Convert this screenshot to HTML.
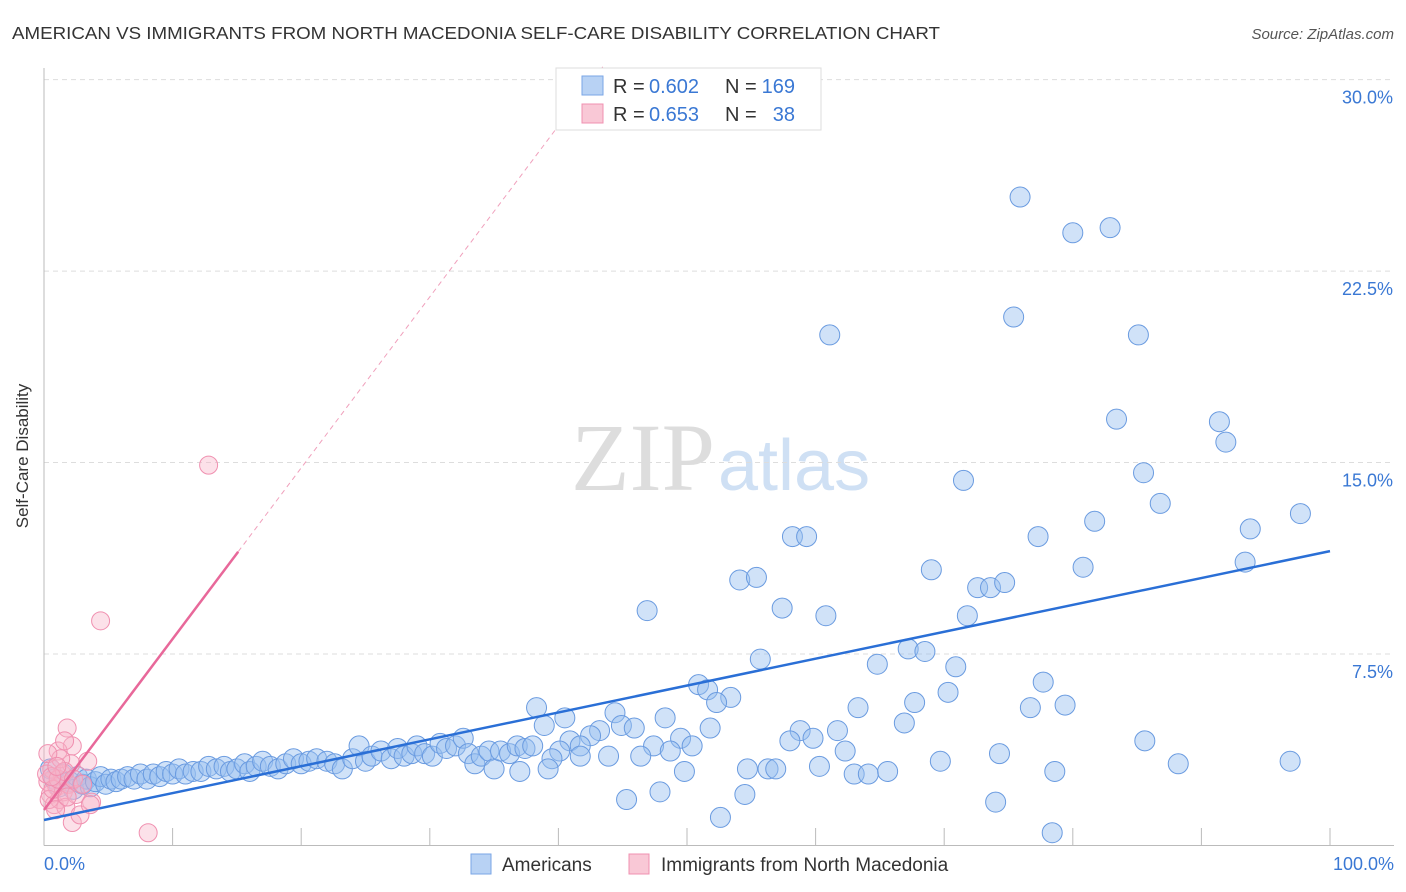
<!DOCTYPE html>
<html><head><meta charset="utf-8"><style>
body{margin:0;background:#fff;font-family:"Liberation Sans",sans-serif;}
svg{display:block}
</style></head><body>
<svg width="1406" height="892" xmlns="http://www.w3.org/2000/svg">
<text x="12" y="39" font-size="17.5" fill="#333" textLength="928" lengthAdjust="spacingAndGlyphs">AMERICAN VS IMMIGRANTS FROM NORTH MACEDONIA SELF-CARE DISABILITY CORRELATION CHART</text>
<text x="1394" y="39" font-size="15" fill="#555" font-style="italic" text-anchor="end">Source: ZipAtlas.com</text>
<text x="715" y="490" font-size="96" fill="#ddd" text-anchor="end" font-family="Liberation Serif,serif">ZIP</text>
<text x="718" y="490" font-size="72" fill="#cfe0f4">atlas</text>
<g id="grid"></g>
<g id="axes"></g>
<g id="pts"></g>
<g id="lines"></g>
<text x="28" y="456" font-size="17" fill="#333" text-anchor="middle" transform="rotate(-90 28 456)">Self-Care Disability</text>
<text x="44" y="870" font-size="18" fill="#3a78d4">0.0%</text>
<text x="1394" y="870" font-size="18" fill="#3a78d4" text-anchor="end">100.0%</text>
<g>
<rect x="556" y="68" width="265" height="62" fill="#fff" stroke="#ddd"/>
<rect x="582" y="76" width="21" height="19" fill="#b8d2f4" stroke="#7aa6e6"/>
<rect x="582" y="104" width="21" height="19" fill="#f9c8d6" stroke="#f090b0"/>
<text x="613" y="93" font-size="20" fill="#333">R =</text>
<text x="649" y="93" font-size="20" fill="#3a78d4">0.602</text>
<text x="725" y="93" font-size="20" fill="#333">N =</text>
<text x="795" y="93" font-size="20" fill="#3a78d4" text-anchor="end">169</text>
<text x="613" y="121" font-size="20" fill="#333">R =</text>
<text x="649" y="121" font-size="20" fill="#3a78d4">0.653</text>
<text x="725" y="121" font-size="20" fill="#333">N =</text>
<text x="795" y="121" font-size="20" fill="#3a78d4" text-anchor="end">38</text>
</g>
<g>
<rect x="471" y="854" width="20" height="20" fill="#b8d2f4" stroke="#7aa6e6"/>
<text x="502" y="871" font-size="19" fill="#333">Americans</text>
<rect x="629" y="854" width="20" height="20" fill="#f9c8d6" stroke="#f090b0"/>
<text x="661" y="871" font-size="19" fill="#333">Immigrants from North Macedonia</text>
</g>
</svg>
<script>
const yTicks=[7.5,15,22.5,30];
const xTicks=[0,10,20,30,40,50,60,70,80,90,100];
const blueX=[75.9,80.0,82.9,61.1,75.4,85.1,83.4,91.4,91.9,85.5,71.5,86.8,97.7,81.7,93.8,77.3,58.2,59.3,93.4,69.0,80.8,54.1,55.4,72.6,73.6,74.7,46.9,57.4,60.8,71.8,55.7,67.2,68.5,64.8,70.9,50.9,51.6,53.4,52.3,70.3,67.7,63.3,77.7,76.7,79.4,66.9,38.3,44.4,40.5,38.9,48.3,51.8,44.9,45.9,43.2,42.5,58.8,61.7,49.5,40.9,41.7,40.1,47.4,50.4,58.0,59.8,62.3,48.7,85.6,74.3,41.7,43.9,46.4,69.7,88.2,96.9,49.8,54.7,56.3,56.9,60.3,63.0,64.1,65.6,78.6,45.3,47.9,54.5,52.6,74.0,78.4,
0.5,0.8,1.2,1.5,2,2.3,2.6,3,3.3,3.6,4,4.4,4.8,5.2,5.6,6,6.5,7,7.5,8,8.5,9,9.5,10,10.5,11,11.6,12.2,12.8,13.4,14,14.5,15,15.6,16,16.5,17,17.6,18.2,18.8,19.4,20,20.6,21.2,22,22.6,23.2,24,24.5,25,25.5,26.2,27,27.5,28,28.6,29,29.6,30.2,30.8,31.3,32,32.6,33,33.5,34,34.6,35,35.5,36.2,36.8,37.4,38,37,39.5,39.2];
const blueY=[25.4,24.0,24.2,20.0,20.7,20.0,16.7,16.6,15.8,14.6,14.3,13.4,13.0,12.7,12.4,12.1,12.1,12.1,11.1,10.8,10.9,10.4,10.5,10.1,10.1,10.3,9.2,9.3,9.0,9.0,7.3,7.7,7.6,7.1,7.0,6.3,6.1,5.8,5.6,6.0,5.6,5.4,6.4,5.4,5.5,4.8,5.4,5.2,5.0,4.7,5.0,4.6,4.7,4.6,4.5,4.3,4.5,4.5,4.2,4.1,3.9,3.7,3.9,3.9,4.1,4.2,3.7,3.7,4.1,3.6,3.5,3.5,3.5,3.3,3.2,3.3,2.9,3.0,3.0,3.0,3.1,2.8,2.8,2.9,2.9,1.8,2.1,2.0,1.1,1.7,0.5,
3.0,2.6,2.3,2.8,2.5,2.2,2.7,2.4,2.6,2.3,2.5,2.7,2.4,2.6,2.5,2.6,2.7,2.6,2.8,2.6,2.8,2.7,2.9,2.8,3.0,2.8,2.9,2.9,3.1,3.0,3.1,2.9,3.0,3.2,2.9,3.1,3.3,3.1,3.0,3.2,3.4,3.2,3.3,3.4,3.3,3.2,3.0,3.4,3.9,3.3,3.5,3.7,3.4,3.8,3.5,3.6,3.9,3.6,3.5,4.0,3.8,3.9,4.2,3.6,3.2,3.5,3.7,3.0,3.7,3.6,3.9,3.8,3.9,2.9,3.4,3.0];
const pinkX=[8.1,4.4,12.8,1.8,2.2,1.1,1.6,3.7,2.2,3.4,0.3,0.5,0.6,0.8,1,1.2,1.4,1.5,1.7,1.9,2.1,0.2,0.4,0.7,1.1,1.3,2.5,2.8,3.6,0.9,1.6,0.3,2.3,1.8,3.0,0.6,1.0];
const pinkY=[0.5,8.8,14.9,4.6,3.9,3.7,4.1,1.7,0.9,3.3,2.5,2.0,3.0,1.6,2.3,1.8,2.8,2.1,1.5,2.4,3.2,2.8,1.8,2.2,2.6,3.4,2.0,1.2,1.6,1.4,2.9,3.6,2.6,1.9,2.4,2.7,3.1];
const blueFit=[1.0,0.1053];
const pinkFit=[1.39,0.67];
const X=v=>44+v*12.86, Y=v=>845.5-v*25.53;
const NS='http://www.w3.org/2000/svg';
function mk(t,a,p){const e=document.createElementNS(NS,t);for(const k in a)e.setAttribute(k,a[k]);p.appendChild(e);return e;}
const grid=document.getElementById('grid'),axes=document.getElementById('axes'),pts=document.getElementById('pts'),lines=document.getElementById('lines');
yTicks.forEach(t=>{
 const l=mk('line',{x1:44,x2:1394,y1:Y(t),y2:Y(t),stroke:'#ddd','stroke-dasharray':'5,4'},grid);
 
 
 const tx=mk('text',{x:1393,y:Y(t)+24,'font-size':18,fill:'#3a78d4','text-anchor':'end'},grid);
 tx.textContent=t.toFixed(1)+'%';
 
 
});
const ax=mk('line',{x1:44,x2:1394,y1:845.5,y2:845.5,stroke:'#bbb'},axes);


const ay=mk('line',{x1:44,x2:44,y1:68,y2:845.5,stroke:'#bbb'},axes);


xTicks.forEach(t=>{
 const l=mk('line',{x1:X(t),x2:X(t),y1:828,y2:845.5,stroke:'#bbb'},axes);
 
 
});
blueX.forEach((x,i)=>{
 const c=mk('circle',{cx:X(x),cy:Y(blueY[i]),r:10,fill:'rgba(150,190,240,0.45)',stroke:'#6a9be0','stroke-width':1},pts);
 
 
});
pinkX.forEach((x,i)=>{
 const c=mk('circle',{cx:X(x),cy:Y(pinkY[i]),r:9,fill:'rgba(248,180,200,0.4)',stroke:'#f090b0','stroke-width':1},pts);
 
 
});
const bl=mk('line',{x1:X(0),y1:Y(blueFit[0]),x2:X(100),y2:Y(blueFit[0]+blueFit[1]*100),stroke:'#2a6fd6','stroke-width':2.5},lines);


const pl=mk('line',{x1:X(0),y1:Y(pinkFit[0]),x2:X(15.1),y2:Y(pinkFit[0]+pinkFit[1]*15.1),stroke:'#e8689a','stroke-width':2.5},lines);


const xe=(30.5-pinkFit[0])/pinkFit[1];
const pd=mk('line',{x1:X(15.1),y1:Y(pinkFit[0]+pinkFit[1]*15.1),x2:X(xe),y2:Y(30.5),stroke:'#f0a0bc','stroke-width':1,'stroke-dasharray':'5,4'},lines);


</script>
</body></html>
